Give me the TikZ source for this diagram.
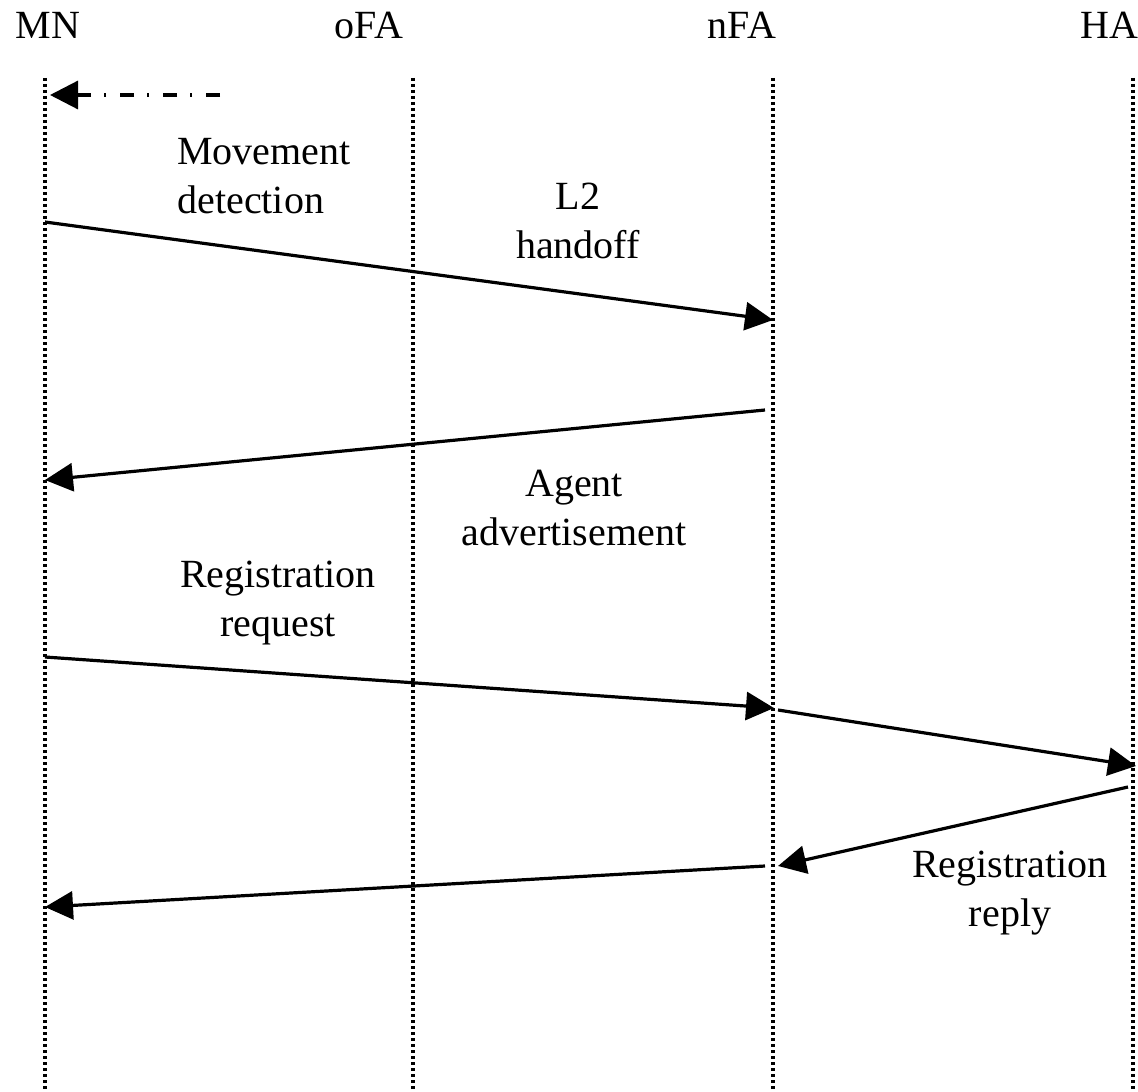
\documentclass[tikz,border=0pt]{standalone}
\usepackage{fontspec}
\setmainfont{Liberation Serif}
\usetikzlibrary{arrows.meta}
\tikzset{x=0.5pt, y=-0.5pt,
    every node/.style={font=\fontsize{20}{24.5}\selectfont, inner sep=0pt},
    lifeline/.style={line width=2pt, dash pattern=on 1.6pt off 1.4pt},
    msg/.style={line width=1.6pt, -{Triangle[length=14pt,width=14pt]}},
    probe/.style={msg, dash pattern=on 7pt off 7pt on 1pt off 6.5pt},
    lbl/.style={align=center},
    }
\begin{document}
\begin{tikzpicture}
	\useasboundingbox (0,0) rectangle (1138,1091);
	% heads of the lifelines
	\node (MN)  at (48,25)   {MN};
	\node (oFA) at (369,25)  {oFA};
	\node (nFA) at (742,25)  {nFA};
	\node (HA)  at (1109,25) {HA};
	% lifelines
	\foreach \name/\x in {mn/45, ofa/413, nfa/773, ha/1133}{
		\coordinate (\name top) at (\x,78);
		\coordinate (\name bot) at (\x,1091);
		\draw[lifeline] (\name top) -- (\name bot);
	}
	% message end points
	\coordinate (p0) at (220,95);   \coordinate (p0e) at (50,95);
	\coordinate (m1) at (45,222);   \coordinate (n1) at (773,320);
	\coordinate (n2) at (765,410);  \coordinate (m2) at (45,480);
	\coordinate (m3) at (45,657);   \coordinate (n3) at (774,708);
	\coordinate (n4) at (778,710);  \coordinate (h4) at (1136,766);
	\coordinate (h5) at (1128,787); \coordinate (n5) at (778,866);
	\coordinate (n6) at (765,866);  \coordinate (m6) at (45,907);
	% messages
	\draw[probe] (p0) -- (p0e);
	\draw[msg] (m1) -- (n1);
	\draw[msg] (n2) -- (m2);
	\draw[msg] (m3) -- (n3);
	\draw[msg] (n4) -- (h4);
	\draw[msg] (h5) -- (n5);
	\draw[msg] (n6) -- (m6);
	% labels
	\node[align=left, anchor=west] (move) at (177,176) {Movement\\detection};
	\node[lbl] (handoff) at (578,221) {L2\\handoff};
	\node[lbl] (adv)     at (574,508) {Agent\\advertisement};
	\node[lbl] (regreq)  at (278,603) {Registration\\request};
	\node[lbl] (regrep)  at (1010,893) {Registration\\reply};
\end{tikzpicture}
\end{document}
